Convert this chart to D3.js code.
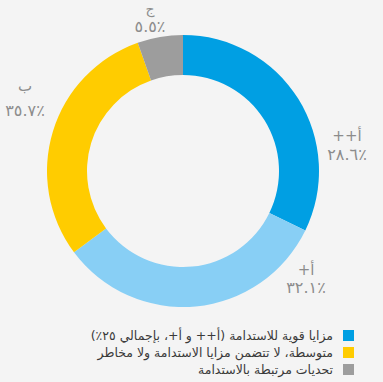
<!DOCTYPE html>
<html><head><meta charset="utf-8">
<script src="https://cdn.jsdelivr.net/npm/d3@7"></script>
<style>html,body{margin:0;padding:0;background:#f4f4f4;}svg{display:block;}</style>
</head><body>
<svg id="c" width="383" height="382"></svg>
<script>
// Slices (clockwise from 12 o'clock) as drawn in the picture
const categories = ["أ++", "أ+", "ب", "ج"];
const sliceShares = [32.2, 32.6, 29.8, 5.4];
const labelValues = ["٢٨.٦٪", "٣٢.١٪", "٣٥.٧٪", "٥.٥٪"];
const colors = ["#009fe3", "#88cff5", "#ffcc00", "#9d9d9d"];
const legendLabels = [
  "مزايا قوية للاستدامة (أ++ و أ+، بإجمالي ٢٥٪)",
  "متوسطة، لا تتضمن مزايا الاستدامة ولا مخاطر",
  "تحديات مرتبطة بالاستدامة"
];
const legendColors = ["#009fe3", "#ffcc00", "#9d9d9d"];

const svg = d3.select("#c");
const cx = 183, cy = 171, R = 136, r = 96;
const g = svg.append("g").attr("transform", `translate(${cx},${cy})`);
const pie = d3.pie().sort(null).value(d => d);
const arc = d3.arc().innerRadius(r).outerRadius(R);
const arcs = pie(sliceShares);
g.selectAll("path").data(arcs).join("path")
  .attr("d", arc).attr("fill", (d, i) => colors[i]);

// label anchor positions (layout): x, name baseline, value baseline, name size
const labelPos = [[347, 141, 160, 15], [306, 275, 293, 15], [25, 91, 116, 15], [150, 14, 32, 14]];
const font = "'DejaVu Sans', sans-serif";
categories.forEach((c, i) => {
  const [x, y1, y2, fs] = labelPos[i];
  svg.append("text").attr("x", x).attr("y", y1).attr("text-anchor", "middle")
    .attr("direction", "rtl")
    .attr("font-family", font).attr("font-size", fs).attr("fill", "#8c8c8c").text("\u200F" + c + "\u200F");
  svg.append("text").attr("x", x).attr("y", y2).attr("text-anchor", "middle")
    .attr("direction", "ltr")
    .attr("font-family", font).attr("font-size", 16).attr("fill", "#8c8c8c").text(labelValues[i]);
});

const lg = svg.append("g");
legendLabels.forEach((t, i) => {
  const y = 330 + i * 17;
  lg.append("rect").attr("x", 343).attr("y", y).attr("width", 11).attr("height", 11).attr("fill", legendColors[i]);
  lg.append("text").attr("x", 333).attr("y", y + 9.5).attr("text-anchor", "start")
    .attr("direction", "rtl").attr("font-family", font).attr("font-size", 12.5).attr("fill", "#3a3a3a").text(t);
});
</script>
</body></html>
